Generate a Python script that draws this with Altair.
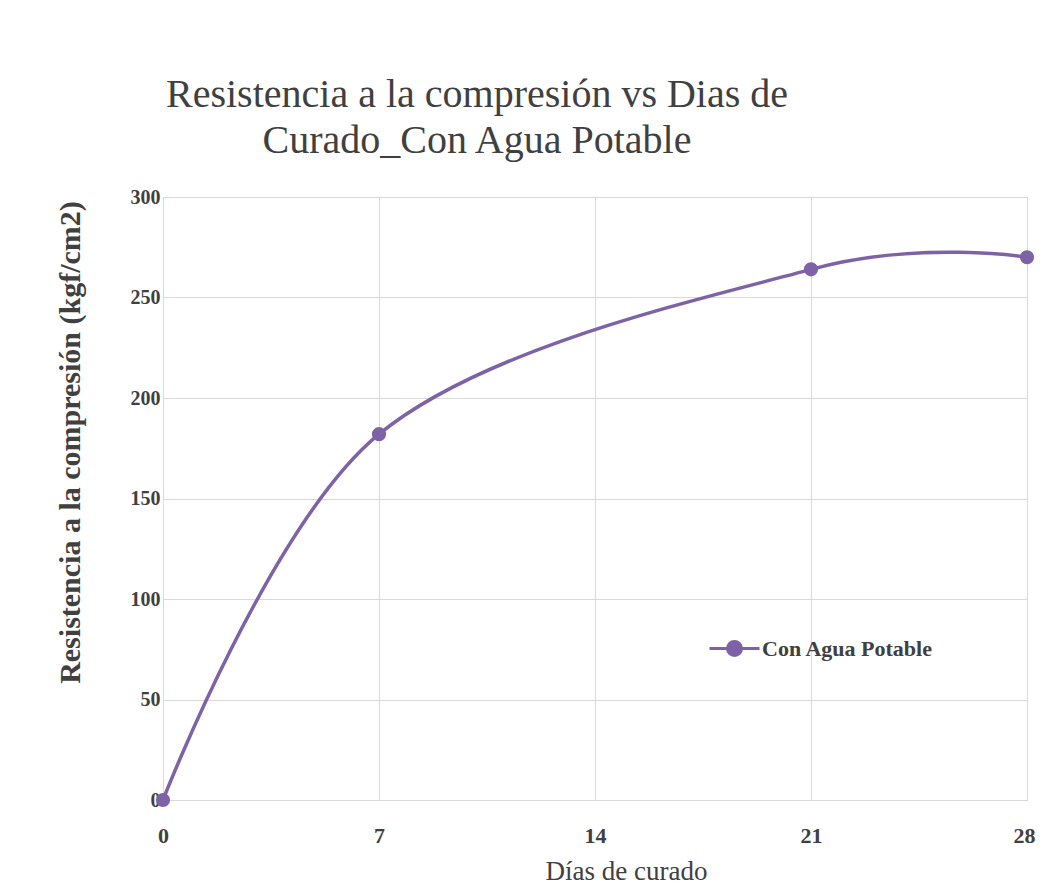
import altair as alt
import pandas as pd

dias = [0, 7, 21, 28]
resistencia = [0, 182, 264, 270]
serie = ["Con Agua Potable"] * 4
x_ticks = [0, 7, 14, 21, 28]
y_ticks = [0, 50, 100, 150, 200, 250, 300]

df = pd.DataFrame({"Dias": dias, "Resistencia": resistencia, "Serie": serie})

FONT = "Liberation Serif"
PURPLE = "#7E62A6"
GRID = "#d9d9d9"
TXT = "#404040"

x = alt.X("Dias:Q", scale=alt.Scale(domain=[0, 28], nice=False, zero=False),
          axis=alt.Axis(values=x_ticks, title="Días de curado", grid=True,
                        gridColor=GRID, domainColor=GRID, tickSize=0,
                        labelPadding=25, labelFontSize=22, labelFontWeight="bold",
                        labelColor=TXT, labelFont=FONT, labelFlush=False,
                        labelAlign=alt.expr("datum.value == 28 ? 'right' : 'center'"),
                        labelOffset=alt.expr("datum.value == 28 ? 8 : 0"),
                        titleFont=FONT, titleFontSize=27, titleFontWeight="normal",
                        titleColor=TXT, titleX=463, titleY=58, titleAnchor="start",
                        titleAlign="center", titleBaseline="top"))
y = alt.Y("Resistencia:Q", scale=alt.Scale(domain=[0, 300], nice=False),
          axis=alt.Axis(values=y_ticks, title="Resistencia a la compresión (kgf/cm2)",
                        grid=True, gridColor=GRID, domainColor=GRID, tickSize=0,
                        labelPadding=3, labelFontSize=20, labelFontWeight="bold",
                        labelColor=TXT, labelFont=FONT,
                        titleFont=FONT, titleFontSize=30, titleFontWeight="bold",
                        titleColor=TXT, titleX=-78, titleY=245, titleAngle=-90,
                        titleAlign="center", titleBaseline="bottom"))

color = alt.Color("Serie:N", scale=alt.Scale(range=[PURPLE]),
                  legend=alt.Legend(title=None, orient="none", legendX=560, legendY=440,
                                    symbolType="M-2.5,0L2.5,0M0.7,0A0.7,0.7 0 1,1 -0.7,0A0.7,0.7 0 1,1 0.7,0Z",
                                    symbolSize=400, symbolStrokeWidth=3,
                                    symbolFillColor=PURPLE, symbolStrokeColor=PURPLE,
                                    labelFont=FONT, labelFontSize=22, labelFontWeight="bold",
                                    labelColor=TXT, labelOffset=16, labelLimit=0))

line = alt.Chart(df).mark_line(interpolate="cardinal", strokeWidth=3.5).encode(
    x=x, y=y, color=color)
pts = alt.Chart(df).mark_circle(size=200, opacity=1).encode(
    x=x, y=y, color=alt.Color("Serie:N", scale=alt.Scale(range=[PURPLE]), legend=None))

chart = alt.layer(line, pts).properties(
    width=864, height=603,
    autosize=alt.AutoSizeParams(type="none"),
    padding={"left": 155, "top": 189, "right": 8, "bottom": 84},
    title=alt.Title(["Resistencia a la compresión vs Dias de", "Curado_Con Agua Potable"],
                    font=FONT, fontSize=40, fontWeight="normal", color=TXT,
                    anchor="middle", dx=-118, offset=26, lineHeight=46, frame="group"),
).configure_view(stroke=None).configure(background="white")

chart.save("out.html", embed_options={"renderer": "svg", "actions": False})
